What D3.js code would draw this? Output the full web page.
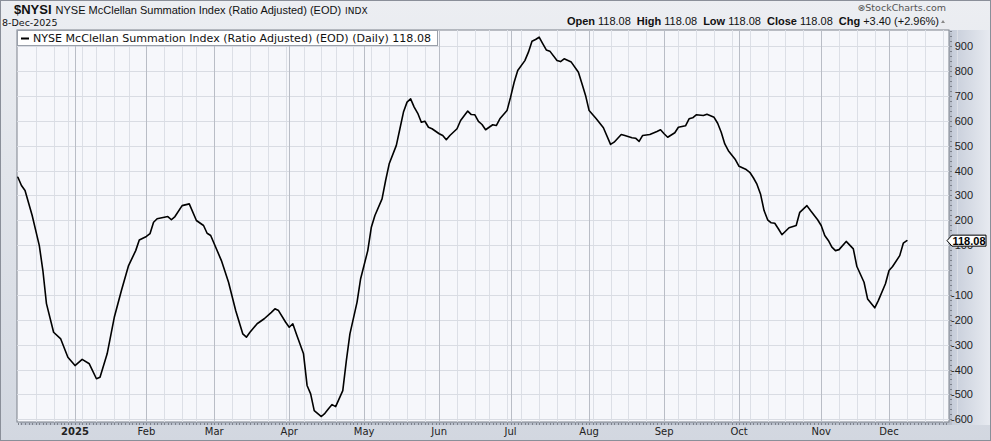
<!DOCTYPE html>
<html>
<head>
<meta charset="utf-8">
<script src="https://cdn.jsdelivr.net/npm/d3@7"></script>
<style>
  body { margin: 0; background: #fff; }
  svg { display: block; }
</style>
</head>
<body>
<svg id="chart" width="991" height="441"></svg>
<script>
// NYSE McClellan Summation Index (trading days)
var dates = ["2024-12-09","2024-12-10","2024-12-11","2024-12-13","2024-12-17","2024-12-18","2024-12-19","2024-12-23","2024-12-26","2024-12-30",
  "2025-01-02","2025-01-06","2025-01-08","2025-01-13","2025-01-14","2025-01-16","2025-01-21","2025-01-23","2025-01-27","2025-01-29","2025-01-30",
  "2025-02-03","2025-02-04","2025-02-05","2025-02-06","2025-02-11","2025-02-12","2025-02-13","2025-02-18","2025-02-20","2025-02-24","2025-02-26","2025-02-27","2025-02-28",
  "2025-03-05","2025-03-07","2025-03-11","2025-03-13","2025-03-14","2025-03-17","2025-03-19","2025-03-21","2025-03-25","2025-03-26","2025-03-27","2025-03-31",
  "2025-04-01","2025-04-02","2025-04-03","2025-04-07","2025-04-08","2025-04-09","2025-04-10","2025-04-14","2025-04-15","2025-04-16","2025-04-17","2025-04-21","2025-04-23","2025-04-24","2025-04-25","2025-04-29","2025-04-30",
  "2025-05-02","2025-05-05","2025-05-06","2025-05-08","2025-05-09","2025-05-12","2025-05-14","2025-05-15","2025-05-16","2025-05-19","2025-05-20","2025-05-21","2025-05-22","2025-05-23","2025-05-27","2025-05-28","2025-05-29",
  "2025-06-02","2025-06-03","2025-06-04","2025-06-05","2025-06-09","2025-06-10","2025-06-12","2025-06-13","2025-06-16","2025-06-17","2025-06-18","2025-06-20","2025-06-24","2025-06-25","2025-06-26","2025-06-30",
  "2025-07-01","2025-07-02","2025-07-03","2025-07-08","2025-07-09","2025-07-10","2025-07-11","2025-07-14","2025-07-15","2025-07-16","2025-07-17","2025-07-21","2025-07-22","2025-07-23","2025-07-25","2025-07-29","2025-07-30","2025-07-31",
  "2025-08-01","2025-08-05","2025-08-07","2025-08-11","2025-08-12","2025-08-14","2025-08-15","2025-08-19","2025-08-20","2025-08-21","2025-08-22","2025-08-26","2025-08-28","2025-08-29",
  "2025-09-02","2025-09-03","2025-09-05","2025-09-08","2025-09-10","2025-09-11","2025-09-12","2025-09-15","2025-09-17","2025-09-18","2025-09-22","2025-09-23","2025-09-24","2025-09-25","2025-09-26","2025-09-30",
  "2025-10-01","2025-10-03","2025-10-06","2025-10-07","2025-10-08","2025-10-09","2025-10-10","2025-10-13","2025-10-14","2025-10-15","2025-10-16","2025-10-17","2025-10-20","2025-10-21","2025-10-23","2025-10-24","2025-10-28","2025-10-29","2025-10-31",
  "2025-11-03","2025-11-04","2025-11-05","2025-11-06","2025-11-07","2025-11-10","2025-11-12","2025-11-14","2025-11-17","2025-11-19","2025-11-20","2025-11-24","2025-11-25","2025-11-28",
  "2025-12-01","2025-12-02","2025-12-04","2025-12-05","2025-12-08"];

var values = [373,340,320,219,98,-2,-135,-250,-277,-351,
  -384,-359,-377,-437,-431,-337,-190,-82,18,78,121,
  135,146,192,206,215,202,215,259,266,199,179,148,139,
  38,-49,-163,-257,-270,-250,-216,-196,-170,-156,-163,-210,
  -230,-216,-257,-337,-464,-498,-565,-589,-576,-558,-541,-549,-485,-364,-257,-129,-35,
  78,172,219,286,360,427,501,568,635,675,688,655,630,594,598,574,568,
  548,541,524,541,568,601,639,625,624,598,585,564,584,581,608,641,
  695,755,802,842,876,920,927,936,910,885,880,842,838,849,836,795,749,702,
  641,608,572,505,514,545,541,532,530,517,541,545,557,564,
  548,534,552,574,580,608,612,624,621,626,614,590,554,507,480,443,
  417,404,393,371,345,306,239,202,190,188,166,142,156,170,179,232,259,239,202,
  179,139,119,92,78,82,115,85,14,-49,-116,-152,-123,-55,
  -2,14,58,108,118.08];

var holidays = ["2024-12-25","2025-01-01","2025-01-09","2025-01-20","2025-02-17","2025-04-18",
  "2025-05-26","2025-06-19","2025-07-04","2025-09-01","2025-11-27","2025-12-25"];
var monthLabels = ["2025","Feb","Mar","Apr","May","Jun","Jul","Aug","Sep","Oct","Nov","Dec"];
var yTicks = d3.range(-600, 901, 100);
var lastValue = 118.08;

var svg = d3.select("#chart"),
    W = 991, H = 441,
    plot = {left: 17, top: 30, right: 949, bottom: 422};

var fmt = d3.timeFormat("%Y-%m-%d"), parse = d3.timeParse("%Y-%m-%d");

// trading calendar -> index
var tradingDays = d3.timeDay.range(parse("2024-12-09"), parse("2025-12-31"))
  .filter(function(d) { return d.getDay() != 0 && d.getDay() != 6 && holidays.indexOf(fmt(d)) < 0; });
var dayIndex = {};
tradingDays.forEach(function(d, i) { dayIndex[fmt(d)] = i; });

var x = d3.scaleLinear().domain([-0.25, 260.8]).range([plot.left, plot.right]);
var y = d3.scaleLinear().domain([-611, 965]).range([plot.bottom, plot.top]);

var data = dates.map(function(d, i) { return {i: dayIndex[d], v: values[i]}; });

var defs = svg.append("defs");
var bgGrad = defs.append("linearGradient").attr("id", "bgGrad").attr("x1", 0).attr("y1", 0).attr("x2", 0).attr("y2", 1);
bgGrad.append("stop").attr("offset", "0%").attr("stop-color", "#eceef2");
bgGrad.append("stop").attr("offset", "100%").attr("stop-color", "#d2d7e0");
var rGrad = defs.append("linearGradient").attr("id", "rGrad").attr("x1", 0).attr("y1", 0).attr("x2", 1).attr("y2", 0);
rGrad.append("stop").attr("offset", "0%").attr("stop-color", "#c4cbd8");
rGrad.append("stop").attr("offset", "100%").attr("stop-color", "#e8ebf1");

svg.append("rect").attr("width", W).attr("height", H).attr("fill", "url(#bgGrad)");
svg.append("rect").attr("x", plot.right).attr("y", plot.top).attr("width", W - plot.right).attr("height", plot.bottom - plot.top + 3)
  .attr("fill", "url(#rGrad)");
// shadow + plot area
svg.append("rect").attr("x", plot.left + 3).attr("y", plot.top + 3).attr("width", plot.right - plot.left).attr("height", plot.bottom - plot.top)
  .attr("fill", "#b9bfcb");
svg.append("rect").attr("x", plot.left).attr("y", plot.top).attr("width", plot.right - plot.left).attr("height", plot.bottom - plot.top)
  .attr("fill", "#f6f7fb").attr("stroke", "#7d828c").attr("stroke-width", 1);

var g = svg.append("g");

// weekly gridlines (first trading day of each week)
var weekStarts = tradingDays.filter(function(d, i) {
  return i > 0 && +d3.timeWeek(d) != +d3.timeWeek(tradingDays[i - 1]);
});
var monthStarts = tradingDays.filter(function(d, i) {
  return i > 0 && d.getMonth() != tradingDays[i - 1].getMonth();
});
g.selectAll(".wk").data(weekStarts).enter().append("line")
  .attr("x1", function(d) { return Math.round(x(dayIndex[fmt(d)])) + 0.5; })
  .attr("x2", function(d) { return Math.round(x(dayIndex[fmt(d)])) + 0.5; })
  .attr("y1", plot.top).attr("y2", plot.bottom)
  .attr("stroke", "#dcdfe6").attr("stroke-width", 1);
g.selectAll(".hz").data(yTicks).enter().append("line")
  .attr("x1", plot.left).attr("x2", plot.right)
  .attr("y1", function(d) { return Math.round(y(d)) + 0.5; })
  .attr("y2", function(d) { return Math.round(y(d)) + 0.5; })
  .attr("stroke", "#d9dce3").attr("stroke-width", 1);
g.selectAll(".mo").data(monthStarts).enter().append("line")
  .attr("x1", function(d) { return Math.round(x(dayIndex[fmt(d)])) + 0.5; })
  .attr("x2", function(d) { return Math.round(x(dayIndex[fmt(d)])) + 0.5; })
  .attr("y1", plot.top).attr("y2", plot.bottom)
  .attr("stroke", "#b9bdc6").attr("stroke-width", 1);

// tick marks along bottom and right edges
g.selectAll(".dt").data(tradingDays.filter(function(d) { return x(dayIndex[fmt(d)]) < plot.right; })).enter().append("line")
  .attr("x1", function(d) { return Math.round(x(dayIndex[fmt(d)])) + 0.5; })
  .attr("x2", function(d) { return Math.round(x(dayIndex[fmt(d)])) + 0.5; })
  .attr("y1", plot.bottom + 1).attr("y2", plot.bottom + 3)
  .attr("stroke", "#7d828c");
g.selectAll(".yt").data(d3.range(-600, 961, 20)).enter().append("line")
  .attr("x1", plot.right + 1).attr("x2", plot.right + 3)
  .attr("y1", function(d) { return Math.round(y(d)) + 0.5; })
  .attr("y2", function(d) { return Math.round(y(d)) + 0.5; })
  .attr("stroke", "#7d828c");

// legend box
svg.append("rect").attr("x", plot.left + 0.5).attr("y", plot.top + 0.5).attr("width", 420).attr("height", 15)
  .attr("fill", "#fff").attr("stroke", "#9aa0aa").attr("stroke-width", 1);
svg.append("line").attr("x1", 21).attr("x2", 29).attr("y1", 38.5).attr("y2", 38.5).attr("stroke", "#000").attr("stroke-width", 2);
svg.append("text").attr("x", 33).attr("y", 42)
  .attr("font-family", "DejaVu Sans, Verdana, sans-serif").attr("font-size", "10px").attr("fill", "#111")
  .attr("textLength", 398).attr("lengthAdjust", "spacingAndGlyphs")
  .text("NYSE McClellan Summation Index (Ratio Adjusted) (EOD) (Daily) 118.08");

// line
var line = d3.line()
  .x(function(d) { return x(d.i); })
  .y(function(d) { return y(d.v); });
svg.append("path").datum(data)
  .attr("fill", "none").attr("stroke", "#000").attr("stroke-width", 1.6)
  .attr("stroke-linejoin", "round").attr("stroke-linecap", "round")
  .attr("d", line);

// y axis labels
svg.selectAll(".yl").data(yTicks).enter().append("text")
  .attr("x", 973).attr("y", function(d) { return y(d) + 4; })
  .attr("text-anchor", "end")
  .attr("font-family", "Liberation Sans, Arial, sans-serif").attr("font-size", "11px").attr("fill", "#222")
  .text(function(d) { return d; });

// x axis labels
svg.selectAll(".xl").data(monthStarts).enter().append("text")
  .attr("x", function(d) { return x(dayIndex[fmt(d)]); })
  .attr("y", 435)
  .attr("text-anchor", "middle")
  .attr("font-family", "DejaVu Sans, Verdana, sans-serif").attr("font-size", "10px")
  .attr("font-weight", function(d, i) { return i == 0 ? "bold" : "normal"; })
  .attr("fill", "#222")
  .text(function(d, i) { return monthLabels[i]; });

// last value marker
var ly = y(lastValue);
svg.append("path")
  .attr("d", "M947," + ly + " L952," + (ly - 5.5) + " L986," + (ly - 5.5) + " L986," + (ly + 5.5) + " L952," + (ly + 5.5) + " Z")
  .attr("fill", "#fff").attr("stroke", "#000").attr("stroke-width", 1);
svg.append("text").attr("x", 969).attr("y", ly + 4).attr("text-anchor", "middle")
  .attr("font-family", "Liberation Sans, Arial, sans-serif").attr("font-size", "11px").attr("font-weight", "bold")
  .text(lastValue.toFixed(2));

// header
var hdr = svg.append("text").attr("x", 14).attr("y", 14)
  .attr("font-family", "Liberation Sans, Arial, sans-serif").attr("fill", "#111");
hdr.append("tspan").attr("font-size", "13px").attr("font-weight", "bold").text("$NYSI");
hdr.append("tspan").attr("dx", 4).attr("font-size", "11px").text("NYSE McClellan Summation Index (Ratio Adjusted) (EOD)");
hdr.append("tspan").attr("dx", 4).attr("font-size", "9px").attr("font-family", "DejaVu Sans, Verdana, sans-serif").text("INDX");
svg.append("text").attr("x", 2).attr("y", 26)
  .attr("font-family", "DejaVu Sans, Verdana, sans-serif").attr("font-size", "9.5px").attr("fill", "#111")
  .text("8-Dec-2025");
svg.append("text").attr("x", 946).attr("y", 11).attr("text-anchor", "end")
  .attr("font-family", "DejaVu Sans, Verdana, sans-serif").attr("font-size", "9.5px").attr("fill", "#555")
  .text("\u2297StockCharts.com");

var quote = [["Open", "118.08"], ["High", "118.08"], ["Low", "118.08"], ["Close", "118.08"], ["Chg", "+3.40 (+2.96%)"]];
var qt = svg.append("text").attr("x", 939).attr("y", 25).attr("text-anchor", "end")
  .attr("font-family", "Liberation Sans, Arial, sans-serif").attr("font-size", "11px").attr("fill", "#111");
quote.forEach(function(q, i) {
  qt.append("tspan").attr("font-weight", "bold").attr("dx", i == 0 ? 0 : 6).text(q[0]);
  qt.append("tspan").attr("dx", 3).text(q[1]);
});
svg.append("path").attr("d", "M941,23 L945,23 L943,20 Z").attr("fill", "#888");

// outer border
svg.append("rect").attr("x", 0.5).attr("y", 0.5).attr("width", W - 1).attr("height", H - 1)
  .attr("fill", "none").attr("stroke", "#8a8f99");
</script>
</body>
</html>
